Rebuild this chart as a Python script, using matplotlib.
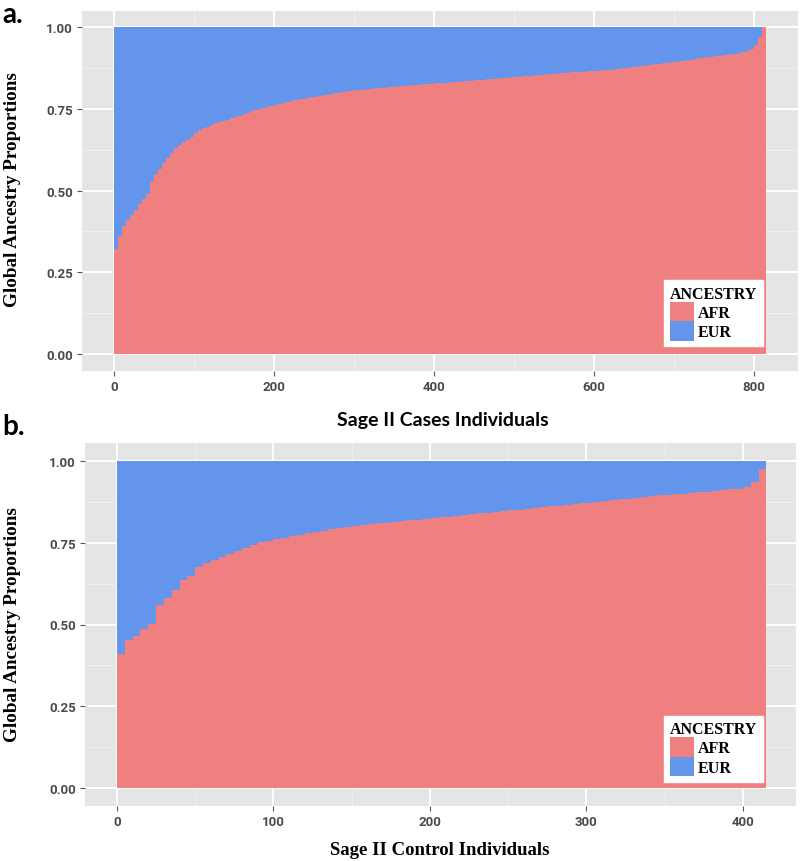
import matplotlib
matplotlib.use("Agg")
import matplotlib.pyplot as plt
from matplotlib.patches import Patch
from matplotlib.ticker import MultipleLocator, FuncFormatter
import numpy as np

# ---------------- data ----------------
# sorted AFR proportion, one value per bin of 5 individuals
bin_size = 5
cases_afr = [
    0.32, 0.36, 0.39, 0.41, 0.425, 0.44, 0.46, 0.475, 0.49, 0.53,
    0.55, 0.565, 0.585, 0.60, 0.615, 0.63, 0.64, 0.648, 0.655, 0.665,
    0.675, 0.685, 0.69, 0.695, 0.70, 0.705, 0.71, 0.714, 0.717, 0.721,
    0.725, 0.729, 0.733, 0.738, 0.743, 0.747, 0.75, 0.753, 0.756, 0.759,
    0.762, 0.765, 0.768, 0.771, 0.774, 0.777, 0.779, 0.781, 0.783, 0.785,
    0.787, 0.789, 0.791, 0.793, 0.795, 0.797, 0.799, 0.801, 0.803, 0.805,
    0.806, 0.807, 0.808, 0.81, 0.811, 0.812, 0.813, 0.815, 0.816, 0.817,
    0.818, 0.82, 0.821, 0.821, 0.822, 0.823, 0.824, 0.825, 0.826, 0.827,
    0.828, 0.828, 0.829, 0.83, 0.831, 0.832, 0.833, 0.834, 0.835, 0.836,
    0.837, 0.838, 0.839, 0.84, 0.841, 0.842, 0.843, 0.844, 0.845, 0.846,
    0.847, 0.848, 0.849, 0.85, 0.851, 0.852, 0.853, 0.854, 0.855, 0.856,
    0.857, 0.858, 0.859, 0.86, 0.861, 0.862, 0.863, 0.863, 0.864, 0.865,
    0.866, 0.867, 0.868, 0.869, 0.87, 0.871, 0.873, 0.874, 0.876, 0.877,
    0.879, 0.88, 0.881, 0.883, 0.884, 0.886, 0.887, 0.889, 0.89, 0.892,
    0.894, 0.895, 0.897, 0.899, 0.90, 0.902, 0.904, 0.905, 0.907, 0.908,
    0.91, 0.911, 0.913, 0.914, 0.916, 0.918, 0.921, 0.924, 0.927, 0.932,
    0.945, 0.97, 1.0,
]
control_afr = [
    0.41, 0.452, 0.465, 0.485, 0.503, 0.56, 0.582, 0.605, 0.635, 0.648,
    0.675, 0.688, 0.698, 0.707, 0.717, 0.726, 0.735, 0.743, 0.752, 0.756,
    0.761, 0.765, 0.77, 0.775, 0.779, 0.783, 0.787, 0.791, 0.795, 0.798,
    0.801, 0.804, 0.806, 0.809, 0.811, 0.814, 0.816, 0.819, 0.821, 0.823,
    0.826, 0.828, 0.83, 0.833, 0.835, 0.837, 0.84, 0.842, 0.844, 0.847,
    0.849, 0.851, 0.854, 0.856, 0.858, 0.861, 0.863, 0.866, 0.868, 0.871,
    0.873, 0.876, 0.878, 0.881, 0.883, 0.885, 0.888, 0.89, 0.892, 0.895,
    0.897, 0.898, 0.9, 0.902, 0.904, 0.906, 0.908, 0.91, 0.913, 0.915,
    0.921, 0.935, 0.975,
]
cases_xticks = [0, 200, 400, 600, 800]
control_xticks = [0, 100, 200, 300, 400]
yticks = [0.0, 0.25, 0.5, 0.75, 1.0]
legend_labels = ["AFR", "EUR"]

AFR_COLOR = "#F08080"
EUR_COLOR = "#6495ED"
BG = "#E5E5E5"

W, H = 800, 862
fig = plt.figure(figsize=(W / 100, H / 100), dpi=100)
fig.patch.set_facecolor("white")

tick_family = ["Roboto", "DejaVu Sans"]
serif_bold = dict(family=["Liberation Serif", "DejaVu Serif"], weight="bold")
sans_bold = dict(family=["Lato", "DejaVu Sans"], weight="bold")


def px_axes(l, t, r, b):
    return fig.add_axes([l / W, 1 - b / H, (r - l) / W, (b - t) / H])


def draw_panel(ax, afr, xticks, xlim, ylim, minor_x, leg_anchor):
    afr = np.asarray(afr)
    x = np.arange(len(afr)) * bin_size
    ax.bar(x, afr, width=bin_size, align="edge", color=AFR_COLOR, linewidth=0)
    ax.bar(x, 1 - afr, bottom=afr, width=bin_size, align="edge", color=EUR_COLOR, linewidth=0)
    ax.set_facecolor(BG)
    ax.set_xlim(*xlim)
    ax.set_ylim(*ylim)
    ax.set_xticks(xticks)
    ax.set_yticks(yticks)
    ax.xaxis.set_minor_locator(MultipleLocator(minor_x))
    ax.yaxis.set_minor_locator(MultipleLocator(0.125))
    ax.yaxis.set_major_formatter(FuncFormatter(lambda v, p: f"{v:.2f}"))
    ax.grid(which="major", color="white", linewidth=1.4)
    ax.grid(which="minor", color="#F2F2F2", linewidth=0.6)
    ax.set_axisbelow(True)
    for s in ax.spines.values():
        s.set_visible(False)
    ax.tick_params(which="major", length=3.5, width=0.8, color="#555555", pad=3)
    ax.tick_params(which="minor", length=0)
    for lab in ax.get_xticklabels() + ax.get_yticklabels():
        lab.set_fontfamily(tick_family)
        lab.set_fontweight("bold")
        lab.set_fontsize(9.5)
        lab.set_color("#4A4A4A")
    handles = [Patch(facecolor=AFR_COLOR, edgecolor="none"),
               Patch(facecolor=EUR_COLOR, edgecolor="none")]
    leg = ax.legend(handles, legend_labels, title="ANCESTRY", loc="lower right",
                    bbox_to_anchor=leg_anchor, frameon=True, fancybox=False,
                    framealpha=1, edgecolor="white", borderpad=0.35,
                    handlelength=1.5, handleheight=1.5, labelspacing=0.0,
                    handletextpad=0.25, borderaxespad=0,
                    prop=dict(family=serif_bold["family"], weight="bold", size=11.5))
    leg.get_title().set_fontfamily(serif_bold["family"])
    leg.get_title().set_fontweight("bold")
    leg.get_title().set_fontsize(11.5)
    leg._legend_box.align = "left"
    return ax


ax1 = px_axes(82, 12, 798, 372)
draw_panel(ax1, cases_afr, cases_xticks, (-40, 855), (-0.052, 1.049), 100, (0.951, 0.069))
ax2 = px_axes(85, 444, 796, 807)
draw_panel(ax2, control_afr, control_xticks, (-20.4, 433.9), (-0.055, 1.055), 50, (0.9536, 0.066))

# panel letters
fig.text(2 / W, 1 - 23 / H, "a.", fontsize=20, **sans_bold)
fig.text(2 / W, 1 - 435 / H, "b.", fontsize=20, **sans_bold)

# y labels
fig.text(13 / W, 1 - 190 / H, "Global Ancestry Proportions", rotation=90,
         ha="center", va="center", fontsize=13.8, **serif_bold)
fig.text(13 / W, 1 - 625 / H, "Global Ancestry Proportions", rotation=90,
         ha="center", va="center", fontsize=13.8, **serif_bold)

# x labels
fig.text(443 / W, 1 - 421 / H, "Sage II Cases Individuals", ha="center", va="center",
         fontsize=14, **sans_bold)
fig.text(440 / W, 1 - 851 / H, "Sage II Control Individuals", ha="center", va="center",
         fontsize=13.5, **serif_bold)

fig.savefig("out.png", dpi=100, facecolor="white")
